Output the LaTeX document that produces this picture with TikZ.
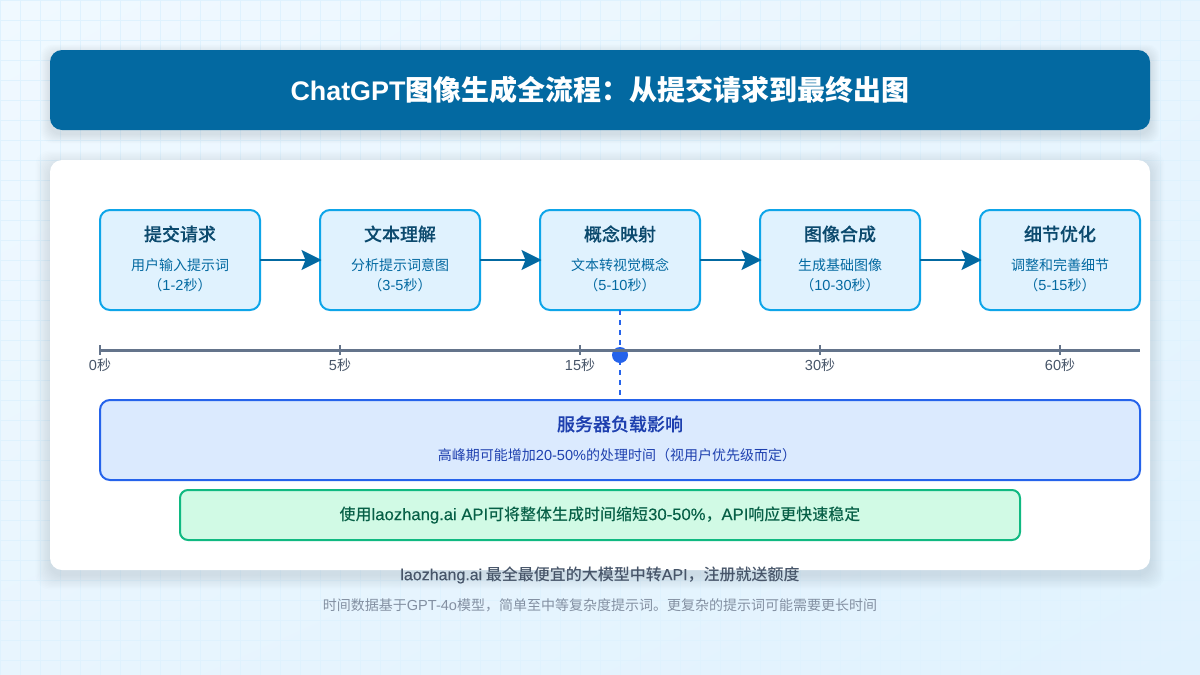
\documentclass[tikz,border=0pt]{standalone}
\usepackage{fontspec}
\setmainfont{Noto Sans CJK SC}
\newfontfamily\latfont[Scale=1.04]{Liberation Sans}
\newfontfamily\cjkmed{Noto Sans CJK SC Medium}
\newfontfamily\cjksemi[FakeBold=0.2]{Noto Sans CJK SC Medium}
\newfontfamily\latmed[Scale=1.04,FakeBold=0.25]{Liberation Sans}
\newfontfamily\latfoot[FakeBold=0.25]{Liberation Sans}
\newfontfamily\lathead[Scale=0.96]{Liberation Sans}
\usetikzlibrary{arrows.meta,positioning,shadings}
\newcommand{\lat}[1]{{\latfont #1}}
\newcommand{\latm}[1]{{\latmed #1}}
\definecolor{bgA}{HTML}{F0F9FF}
\definecolor{bgB}{HTML}{E0F2FE}
\definecolor{bgM}{HTML}{E8F5FE}
\definecolor{gridCol}{HTML}{DFF2FE}
\definecolor{headCol}{HTML}{0369A1}
\definecolor{stepLine}{HTML}{0EA5E9}
\definecolor{stepText}{HTML}{0C4A6E}
\definecolor{axisCol}{HTML}{64748B}
\definecolor{axisText}{HTML}{475569}
\definecolor{loadLine}{HTML}{2563EB}
\definecolor{loadFill}{HTML}{DBEAFE}
\definecolor{loadText}{HTML}{1E40AF}
\definecolor{tipLine}{HTML}{10B981}
\definecolor{tipFill}{HTML}{D1FAE5}
\definecolor{tipText}{HTML}{065F46}
\tikzset{
	stepbox/.style={rectangle,rounded corners=10pt,draw=stepLine,fill=bgB,line width=2pt,
		minimum width=160pt,minimum height=100pt,inner sep=0pt,outer sep=0pt},
	steptitle/.style={text=stepText,font=\fontsize{18}{18}\cjksemi,inner sep=0pt},
	stepsub/.style={text=headCol,font=\fontsize{14}{20}\selectfont,align=center,inner sep=0pt},
	ticklabel/.style={text=axisText,font=\fontsize{14}{14}\selectfont,inner sep=0pt},
	flow/.style={draw=headCol,line width=2pt,-{Stealth[length=20pt,width=20pt,inset=4pt]},shorten >=-1.5pt},
}
\begin{document}
\begin{tikzpicture}[x=1pt,y=-1pt]
	\useasboundingbox (0,0) rectangle (1200,675);
	\shade [upper left=bgA,lower right=bgB,upper right=bgM,lower left=bgM] (0,0) rectangle (1200,675);
	% grid of the background
	\foreach \gx in {0,20,...,1200}
		\draw [gridCol,line width=1pt] (\gx+.5,0) -- (\gx+.5,675);
	\foreach \gy in {0,20,...,660}
		\draw [gridCol,line width=1pt] (0,\gy+.5) -- (1200,\gy+.5);

	% soft shadows
	\foreach \sh in {1,...,12} {
		\fill [black,opacity=0.007,rounded corners=12pt] (50-\sh*.8,50+4-\sh*.8) rectangle (1150+\sh*.8,130+4+\sh*.8);
		\fill [black,opacity=0.007,rounded corners=14pt] (50-\sh*1.2,160+5-\sh*1.2) rectangle (1150+\sh*1.2,570+5+\sh*1.2);
	}

	\node [fill=headCol,rounded corners=12pt,minimum width=1100pt,minimum height=80pt,inner sep=0pt,
		text=white,font=\fontsize{28}{28}\selectfont\bfseries] (titel) at (600,90)
		{{\lathead ChatGPT}图像生成全流程：从提交请求到最终出图};
	\node [fill=white,rounded corners=12pt,minimum width=1100pt,minimum height=410pt,inner sep=0pt] (karte) at (600,365) {};

	\begin{scope}[every node/.style={stepbox}]
		\node (tijiao) at (180,260) {};
		\node (wenben) at (400,260) {};
		\node (gainian) at (620,260) {};
		\node (hecheng) at (840,260) {};
		\node (youhua) at (1060,260) {};
	\end{scope}

	\node [steptitle] (tijiaoT) at (180,234) {提交请求};
	\node [stepsub] (tijiaoS) at (180,275) {用户输入提示词\\（\lat{1-2}秒）};
	\node [steptitle] (wenbenT) at (400,234) {文本理解};
	\node [stepsub] (wenbenS) at (400,275) {分析提示词意图\\（\lat{3-5}秒）};
	\node [steptitle] (gainianT) at (620,234) {概念映射};
	\node [stepsub] (gainianS) at (620,275) {文本转视觉概念\\（\lat{5-10}秒）};
	\node [steptitle] (hechengT) at (840,234) {图像合成};
	\node [stepsub] (hechengS) at (840,275) {生成基础图像\\（\lat{10-30}秒）};
	\node [steptitle] (youhuaT) at (1060,234) {细节优化};
	\node [stepsub] (youhuaS) at (1060,275) {调整和完善细节\\（\lat{5-15}秒）};

	\begin{scope}
		\path [flow] (tijiao) -- (wenben);
		\path [flow] (wenben) -- (gainian);
		\path [flow] (gainian) -- (hecheng);
		\path [flow] (hecheng) -- (youhua);
	\end{scope}

	\node [rectangle,rounded corners=10pt,draw=loadLine,fill=loadFill,line width=2pt,minimum width=1040pt,
		minimum height=80pt,inner sep=0pt,outer sep=0pt] (fuzai) at (620,440) {};
	\draw [loadLine,line width=2pt,dash pattern=on 5pt off 5pt] (gainian.south) -- (fuzai.north);
	\node [circle,fill=loadLine,minimum size=16pt,inner sep=0pt] (punkt) at (620,355) {};

	% time axis
	\coordinate (achseA) at (100,350);
	\coordinate (achseE) at (1140,350);
	\draw [axisCol,line width=3pt] (achseA) -- (achseE);
	\foreach \tx/\tl [count=\ti] in {100/0,340/5,580/15,820/30,1060/60} {
		\coordinate (markO\ti) at (\tx,345);
		\coordinate (markU\ti) at (\tx,355);
		\draw [axisCol,line width=2pt] (markO\ti) -- (markU\ti);
		\node [ticklabel] (mark\ti) at (\tx,365) {\lat{\tl}秒};
	}

	\node [text=loadText,font=\fontsize{18}{18}\cjksemi,inner sep=0pt] (fuzaiT) at (620,424) {服务器负载影响};
	\node [text=loadText,font=\fontsize{14}{14}\selectfont,inner sep=0pt] (fuzaiS) at (617,455)
		{高峰期可能增加\lat{20-50\%}的处理时间（视用户优先级而定）};

	\node [rectangle,rounded corners=8pt,draw=tipLine,fill=tipFill,line width=2pt,minimum width=840pt,minimum height=50pt,
		inner sep=0pt,text=tipText,font=\fontsize{16}{16}\cjkmed] (hinweis) at (600,515)
		{使用\latm{laozhang.ai API}可将整体生成时间缩短\latm{30-50\%}，\latm{API}响应更快速稳定};

	\node [text=axisText,font=\fontsize{16}{16}\cjkmed,inner sep=0pt] (fuss) at (600,575)
		{{\latfoot laozhang.ai} 最全最便宜的大模型中转{\latfoot API}，注册就送额度};
	\node [text=axisCol!80,font=\fontsize{14}{14}\selectfont,inner sep=0pt] (notiz) at (600,605)
		{时间数据基于\lat{GPT-4o}模型，简单至中等复杂度提示词。更复杂的提示词可能需要更长时间};
\end{tikzpicture}
\end{document}
